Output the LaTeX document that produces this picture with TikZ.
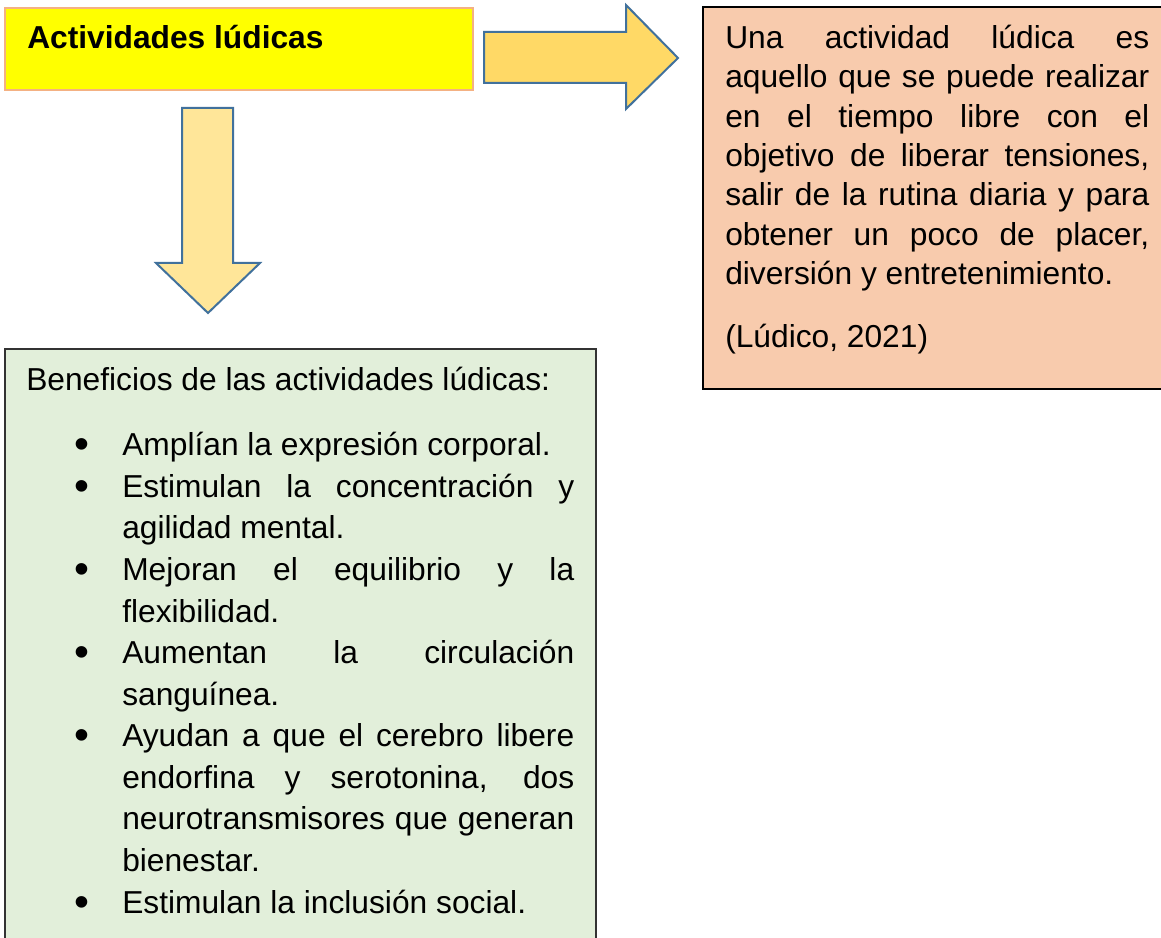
\documentclass[tikz,border=0pt]{standalone}
\usepackage{fontspec}
\setmainfont{Liberation Sans}
\usepackage{enumitem}
\definecolor{arrowblue}{HTML}{41719C}
\definecolor{arrowgold}{HTML}{FFD966}
\definecolor{arrowpale}{HTML}{FFE699}
\definecolor{peach}{HTML}{F8CBAD}
\definecolor{salmon}{HTML}{F4B183}
\definecolor{mint}{HTML}{E2EFDA}
\definecolor{brightyellow}{HTML}{FFFF00}
\tolerance=10000
\hbadness=10000
\newcommand{\bigdot}{\raisebox{-2.2pt}{\fontsize{32}{0}\selectfont\textbullet}}
\tikzset{blockarrow/.style = {draw=arrowblue, line width=1.5pt}}
\tikzset{textbox/.style = {anchor=base west, inner sep=0pt, align=justify, font=\fontsize{23.8}{29.55}\selectfont}}

\begin{document}
\begin{tikzpicture}[x=0.75pt, y=-0.75pt]
      \useasboundingbox (0,0) rectangle (1161,938);
      \clip (0,0) rectangle (1161,938);

      \draw[fill=brightyellow, draw=salmon, line width=1.5pt] (5,8) rectangle (473,90);
      \draw[fill=peach, draw=black, line width=1pt] (703,7) rectangle (1175,389);
      \draw[fill=mint, draw=black!80, line width=1pt] (5,950) -- (5,349) -- (596,349) -- (596,950);

      \draw[blockarrow, fill=arrowgold] (484,32) -- (626,32) -- (626,5) -- (678,58)
            -- (626,109) -- (626,83) -- (484,83) -- cycle;
      \draw[blockarrow, fill=arrowpale] (182,108) -- (233,108) -- (233,263) -- (260,263)
            -- (208,313) -- (156,263) -- (182,263) -- cycle;

      \node[textbox, font=\fontsize{23.8}{29.55}\selectfont\bfseries] (title) at (27,49) {Actividades lúdicas};
      \node[textbox, text width=318pt] (defn) at (725,48.3) {Una actividad lúdica es\linebreak
            aquello que se puede realizar\linebreak en el tiempo libre con el\linebreak
            objetivo de liberar tensiones,\linebreak salir de la rutina diaria y para\linebreak
            obtener un poco de placer,\linebreak diversión y entretenimiento.\par
            \vspace{17.7pt}(Lúdico, 2021)};
      \node[textbox, text width=411pt, font=\fontsize{23.8}{31.2}\selectfont] (benefits) at (26,390.6) {%
            Beneficios de las actividades lúdicas:
            \begin{itemize}[leftmargin=72pt, labelsep=24.5pt, align=right, topsep=17.55pt,
                  partopsep=0pt, itemsep=0pt, parsep=0pt, label=\bigdot]
            \item Amplían la expresión corporal.
            \item Estimulan la concentración y\linebreak agilidad mental.
            \item Mejoran el equilibrio y la\linebreak flexibilidad.
            \item Aumentan la circulación\linebreak sanguínea.
            \item Ayudan a que el cerebro libere\linebreak endorfina y serotonina, dos\linebreak
                  neurotransmisores que generan\linebreak bienestar.
            \item Estimulan la inclusión social.
            \end{itemize}};
    \end{tikzpicture}
\end{document}
